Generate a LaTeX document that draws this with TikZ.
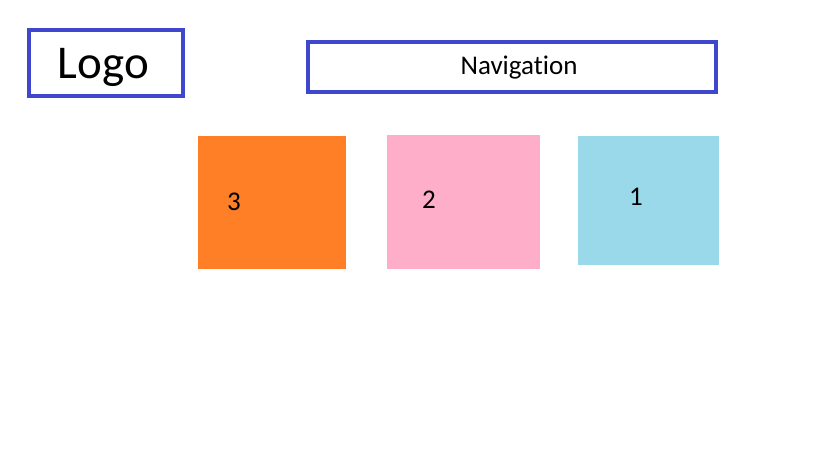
\documentclass[tikz,border=0pt]{standalone}
\usepackage{fontspec}
\setmainfont[Ligatures={NoCommon}]{Carlito}
\definecolor{frameblue}{HTML}{3F48CC}
\definecolor{boxorange}{HTML}{FF7F27}
\definecolor{boxpink}{HTML}{FFAEC9}
\definecolor{boxblue}{HTML}{99D9EA}
\tikzset{
  frame/.style={draw=frameblue, line width=4pt},
  lbl/.style={inner sep=0pt, text=black, font=\fontsize{27}{31}\selectfont},
}
\begin{document}
\begin{tikzpicture}[x=1pt,y=-1pt]
\useasboundingbox[fill=white] (0,0) rectangle (819,460);
\draw[frame] (29,30) rectangle (183,96);
\node[inner sep=0pt, font=\fontsize{47}{54}\selectfont] (logo) at (103.5,67) {Logo};
\draw[frame] (308,42) rectangle (716,92);
\node[lbl] (nav) at (519,68) {Navigation};
\fill[boxorange] (198,136) rectangle (346,269);
\fill[boxpink] (387,135) rectangle (540,269);
\fill[boxblue] (578,136) rectangle (719,265);
\node[lbl] (n3) at (234,202) {3};
\node[lbl] (n2) at (429,200) {2};
\node[lbl] (n1) at (636,197) {1};
\end{tikzpicture}
\end{document}
